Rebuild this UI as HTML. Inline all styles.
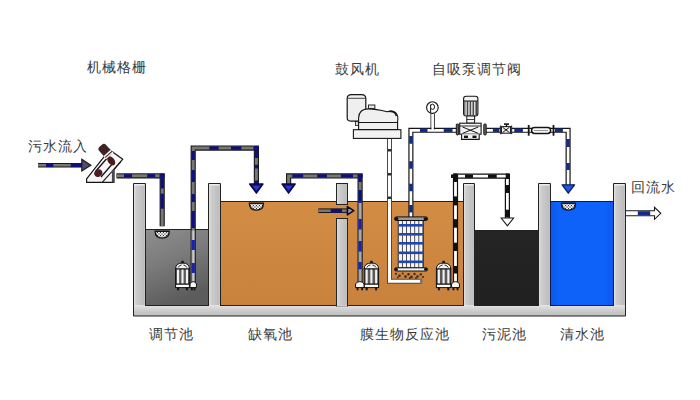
<!DOCTYPE html>
<html><head><meta charset="utf-8">
<style>
html,body{margin:0;padding:0;background:#fff;width:700px;height:400px;overflow:hidden}
.t{position:absolute;font-family:"Liberation Sans",sans-serif;font-size:14px;line-height:15px;letter-spacing:1px;color:#3a3a3a;white-space:nowrap}
svg{position:absolute;left:0;top:0}
</style></head><body>
<svg width="700" height="400" viewBox="0 0 700 400">
<defs>
<linearGradient id="gGray" x1="0" y1="0" x2="0.35" y2="1">
<stop offset="0" stop-color="#8e8e8e"/><stop offset="0.45" stop-color="#7c7c7c"/><stop offset="1" stop-color="#5c5c5c"/></linearGradient>
<linearGradient id="gOr" x1="0" y1="0" x2="0" y2="1">
<stop offset="0" stop-color="#d28c44"/><stop offset="1" stop-color="#c9823c"/></linearGradient>
<linearGradient id="gBlk" x1="0" y1="0" x2="0" y2="1">
<stop offset="0" stop-color="#252525"/><stop offset="1" stop-color="#202020"/></linearGradient>
<linearGradient id="gBlue" x1="0" y1="0" x2="1" y2="0">
<stop offset="0" stop-color="#0c58ee"/><stop offset="0.15" stop-color="#0e62fa"/><stop offset="0.85" stop-color="#0e62fa"/><stop offset="1" stop-color="#0c58ee"/></linearGradient>
<linearGradient id="gWall" x1="0" y1="0" x2="1" y2="0">
<stop offset="0" stop-color="#e4e4e4"/><stop offset="0.25" stop-color="#cdcdcd"/><stop offset="0.6" stop-color="#c4c4c4"/><stop offset="0.88" stop-color="#bdbdbd"/><stop offset="1" stop-color="#cfcfcf"/></linearGradient>
<linearGradient id="gFloor" x1="0" y1="0" x2="0" y2="1">
<stop offset="0" stop-color="#e2e2e2"/><stop offset="0.45" stop-color="#cecece"/><stop offset="1" stop-color="#bcbcbc"/></linearGradient>
<pattern id="mesh" width="3" height="3" patternUnits="userSpaceOnUse">
<rect width="3" height="3" fill="#fafafa"/><circle cx="0" cy="0" r="0.65" fill="#333"/><circle cx="3" cy="0" r="0.65" fill="#333"/><circle cx="0" cy="3" r="0.65" fill="#333"/><circle cx="3" cy="3" r="0.65" fill="#333"/><circle cx="1.5" cy="1.5" r="0.65" fill="#333"/></pattern>
</defs>

<rect x="133.5" y="183.5" width="12.00" height="122.00" fill="url(#gWall)"/>
<rect x="208.5" y="183.5" width="12.00" height="122.00" fill="url(#gWall)"/>
<rect x="336.5" y="183.5" width="11.00" height="20.50" fill="url(#gWall)"/>
<rect x="336.5" y="218" width="11.00" height="87.50" fill="url(#gWall)"/>
<rect x="463.5" y="183.5" width="11.00" height="122.00" fill="url(#gWall)"/>
<rect x="538.5" y="183.5" width="12.00" height="122.00" fill="url(#gWall)"/>
<rect x="613.5" y="183.5" width="12.00" height="122.00" fill="url(#gWall)"/>
<rect x="133.5" y="305.5" width="492" height="10.5" fill="url(#gFloor)"/>
<path d="M133.5 316 V183.5 H145.5 V305.5 H208.5 V183.5 H220.5 V305.5 H336.5 V218 H347.5 V305.5 H463.5 V183.5 H474.5 V305.5 H538.5 V183.5 H550.5 V305.5 H613.5 V183.5 H625.5 V316 Z" fill="none" stroke="#222" stroke-width="1"/>
<rect x="336.5" y="183.5" width="11" height="20.5" fill="none" stroke="#222" stroke-width="1"/>
<line x1="134.5" y1="184.8" x2="144.5" y2="184.8" stroke="#f4f4f4" stroke-width="1.3"/>
<line x1="209.5" y1="184.8" x2="219.5" y2="184.8" stroke="#f4f4f4" stroke-width="1.3"/>
<line x1="337.5" y1="184.8" x2="346.5" y2="184.8" stroke="#f4f4f4" stroke-width="1.3"/>
<line x1="464.5" y1="184.8" x2="473.5" y2="184.8" stroke="#f4f4f4" stroke-width="1.3"/>
<line x1="539.5" y1="184.8" x2="549.5" y2="184.8" stroke="#f4f4f4" stroke-width="1.3"/>
<line x1="614.5" y1="184.8" x2="624.5" y2="184.8" stroke="#f4f4f4" stroke-width="1.3"/>
<rect x="145.5" y="229.5" width="63" height="76" fill="url(#gGray)" stroke="#222" stroke-width="1"/>
<rect x="220.5" y="201.5" width="243" height="104" fill="url(#gOr)" stroke="#222" stroke-width="1"/>
<rect x="474.5" y="230.5" width="64" height="75" fill="url(#gBlk)" stroke="#222" stroke-width="1"/>
<rect x="550.5" y="201.5" width="63" height="104" fill="url(#gBlue)" stroke="#0a1a50" stroke-width="1"/>
<rect x="336.5" y="183.5" width="11.00" height="21.00" fill="url(#gWall)" stroke="#222" stroke-width="1"/>
<rect x="336.5" y="218.5" width="11.00" height="87.50" fill="url(#gWall)" stroke="#222" stroke-width="1"/>
<rect x="337" y="305" width="10" height="1.5" fill="#d0d0d0"/>
<path d="M116.5 175.8 L162.2 175.8 L162.2 226.3" fill="none" stroke="#181818" stroke-width="5.2" stroke-linejoin="miter"/>
<path d="M116.5 175.8 L162.2 175.8 L162.2 226.3" fill="none" stroke="#767874" stroke-width="3.0" stroke-linejoin="miter"/>
<rect x="124" y="174.10" width="8.00" height="3.4" fill="#10107a"/>
<rect x="147.2" y="174.10" width="8.00" height="3.4" fill="#10107a"/>
<rect x="159.5" y="174.10" width="5.10" height="3.4" fill="#10107a"/>
<rect x="160.50" y="173.5" width="3.4" height="15.00" fill="#10107a"/>
<rect x="160.50" y="193.7" width="3.4" height="15.00" fill="#10107a"/>
<path d="M193.2 282.5 L193.2 148.1 L256.4 148.1 L256.4 185" fill="none" stroke="#181818" stroke-width="5.2" stroke-linejoin="miter"/>
<path d="M193.2 282.5 L193.2 148.1 L256.4 148.1 L256.4 185" fill="none" stroke="#767874" stroke-width="3.0" stroke-linejoin="miter"/>
<rect x="191.6" y="230.5" width="3.2" height="52" fill="#9c9c9c"/>
<rect x="192.6" y="230.5" width="1.2" height="52" fill="#d8d8d8"/>
<rect x="191.50" y="151" width="3.4" height="9.00" fill="#10107a"/>
<rect x="191.50" y="170" width="3.4" height="12.00" fill="#10107a"/>
<rect x="191.50" y="194" width="3.4" height="8.00" fill="#10107a"/>
<rect x="191.50" y="211" width="3.4" height="17.00" fill="#10107a"/>
<rect x="191.50" y="240" width="3.4" height="10.00" fill="#1a22a8"/>
<rect x="191.50" y="263" width="3.4" height="10.00" fill="#1a22a8"/>
<rect x="209.4" y="146.40" width="9.20" height="3.4" fill="#10107a"/>
<rect x="231" y="146.40" width="10.40" height="3.4" fill="#10107a"/>
<rect x="253.4" y="146.40" width="5.40" height="3.4" fill="#10107a"/>
<rect x="254.70" y="146" width="3.4" height="12.00" fill="#10107a"/>
<rect x="254.70" y="164.7" width="3.4" height="3.80" fill="#10107a"/>
<rect x="254.70" y="180.5" width="3.4" height="4.50" fill="#10107a"/>
<path d="M360.1 283.5 L360.1 175.9 L288.6 175.9 L288.6 185" fill="none" stroke="#181818" stroke-width="5.2" stroke-linejoin="miter"/>
<path d="M360.1 283.5 L360.1 175.9 L288.6 175.9 L288.6 185" fill="none" stroke="#767874" stroke-width="3.0" stroke-linejoin="miter"/>
<rect x="292.3" y="174.20" width="10.90" height="3.4" fill="#10107a"/>
<rect x="317.2" y="174.20" width="9.70" height="3.4" fill="#10107a"/>
<rect x="340.9" y="174.20" width="12.10" height="3.4" fill="#10107a"/>
<rect x="357.5" y="174.20" width="5.20" height="3.4" fill="#10107a"/>
<rect x="358.6" y="202.5" width="3" height="81" fill="#8e8e8e"/>
<rect x="359.5" y="202.5" width="1.2" height="81" fill="#b8b8b8"/>
<rect x="358.40" y="176" width="3.4" height="6.00" fill="#10107a"/>
<rect x="358.40" y="190" width="3.4" height="11.50" fill="#10107a"/>
<rect x="358.40" y="201.5" width="3.4" height="1.50" fill="#1a22a8"/>
<rect x="358.40" y="219" width="3.4" height="10.50" fill="#1a22a8"/>
<rect x="358.40" y="241" width="3.4" height="10.60" fill="#1a22a8"/>
<rect x="358.40" y="262" width="3.4" height="7.30" fill="#1a22a8"/>
<path d="M318.3 210.7 L348 210.7" fill="none" stroke="#181818" stroke-width="4.6" stroke-linejoin="miter"/>
<path d="M318.3 210.7 L348 210.7" fill="none" stroke="#767874" stroke-width="2.6" stroke-linejoin="miter"/>
<rect x="330.7" y="208.80" width="11.30" height="3.8" fill="#10107a"/>
<path d="M38 165.2 L83 165.2" fill="none" stroke="#181818" stroke-width="4.6" stroke-linejoin="miter"/>
<path d="M38 165.2 L83 165.2" fill="none" stroke="#767874" stroke-width="2.6" stroke-linejoin="miter"/>
<rect x="46" y="163.30" width="7.30" height="3.8" fill="#10107a"/>
<rect x="70.8" y="163.30" width="11.70" height="3.8" fill="#10107a"/>
<polygon points="249.6,184 263,184 256.4,193.2" fill="#16168c" stroke="#0a0a44" stroke-width="1.3" stroke-linejoin="round"/>
<polygon points="282,184 295.2,184 288.6,193.2" fill="#16168c" stroke="#0a0a44" stroke-width="1.3" stroke-linejoin="round"/>
<polygon points="252.8,186 260,186 256.4,190.2" fill="#2a3ad0"/><polygon points="285.2,186 292.2,186 288.6,190.2" fill="#2a3ad0"/>
<polygon points="347.4,206.6 353.8,210.7 347.4,214.9" fill="#9494a0" stroke="#0c0c30" stroke-width="1.6" stroke-linejoin="round"/>
<polygon points="81.8,159.2 90.8,165.2 81.8,171" fill="#4e4e66" stroke="#1a1a2a" stroke-width="1.2"/>
<path d="M389.5 138.5 L389.5 281.3 L422 281.3" fill="none" stroke="#4a4a4a" stroke-width="5.0" stroke-linejoin="miter"/>
<path d="M389.5 138.5 L389.5 281.3 L422 281.3" fill="none" stroke="#fff" stroke-width="3.0" stroke-linejoin="miter"/>
<rect x="387.50" y="149" width="4" height="2.50" fill="#333"/>
<rect x="387.50" y="173" width="4" height="2.50" fill="#333"/>
<rect x="387.50" y="196.5" width="4" height="2.50" fill="#333"/>
<rect x="420" y="279" width="2.5" height="4.6" fill="#777"/>
<path d="M410.9 217 L410.9 130.3 L457 130.3" fill="none" stroke="#151515" stroke-width="5.1" stroke-linejoin="miter"/>
<path d="M410.9 217 L410.9 130.3 L457 130.3" fill="none" stroke="#fff" stroke-width="2.7" stroke-linejoin="miter"/>
<rect x="409.20" y="136" width="3.4" height="7.75" fill="#0e2c88"/>
<rect x="409.20" y="161.25" width="3.4" height="7.50" fill="#0e2c88"/>
<rect x="409.20" y="183.75" width="3.4" height="7.50" fill="#0e2c88"/>
<rect x="409.20" y="205" width="3.4" height="7.50" fill="#0e2c88"/>
<rect x="420" y="128.60" width="7.50" height="3.4" fill="#0e2c88"/>
<rect x="443.75" y="128.60" width="8.75" height="3.4" fill="#0e2c88"/>
<path d="M485 130.3 L568.1 130.3 L568.1 185" fill="none" stroke="#151515" stroke-width="5.1" stroke-linejoin="miter"/>
<path d="M485 130.3 L568.1 130.3 L568.1 185" fill="none" stroke="#fff" stroke-width="2.7" stroke-linejoin="miter"/>
<rect x="492.9" y="128.60" width="6.40" height="3.4" fill="#0e2c88"/>
<rect x="514.3" y="128.60" width="8.60" height="3.4" fill="#0e2c88"/>
<rect x="555" y="128.60" width="7.90" height="3.4" fill="#0e2c88"/>
<rect x="566.40" y="139" width="3.4" height="8.00" fill="#0e2c88"/>
<rect x="566.40" y="163" width="3.4" height="7.00" fill="#0e2c88"/>
<path d="M626 210.8 H654.5 V207.3 L660.8 213.3 L654.5 219.3 V215.8 H626" fill="#fff" stroke="#1a1a1a" stroke-width="1.1"/>
<rect x="637.8" y="211.2" width="12.4" height="4.1" fill="#0e2c88"/>
<polygon points="562.2,184.8 574.6,184.8 568.3,193.2" fill="#2058d8" stroke="#0c1c60" stroke-width="1.3" stroke-linejoin="round"/>
<path d="M455.5 283.5 L455.5 176.2 L507.4 176.2 L507.4 218.5" fill="none" stroke="#111" stroke-width="5.2" stroke-linejoin="miter"/>
<path d="M455.5 283.5 L455.5 176.2 L507.4 176.2 L507.4 218.5" fill="none" stroke="#fff" stroke-width="2.8" stroke-linejoin="miter"/>
<rect x="453.80" y="173.5" width="3.4" height="8.50" fill="#111"/>
<rect x="453.80" y="196.4" width="3.4" height="9.00" fill="#111"/>
<rect x="453.80" y="219.2" width="3.4" height="8.50" fill="#111"/>
<rect x="453.80" y="242.7" width="3.4" height="8.30" fill="#111"/>
<rect x="453.80" y="266" width="3.4" height="7.50" fill="#111"/>
<rect x="451" y="174.50" width="7.10" height="3.4" fill="#111"/>
<rect x="465" y="174.50" width="8.00" height="3.4" fill="#111"/>
<rect x="488" y="174.50" width="8.70" height="3.4" fill="#111"/>
<rect x="505.70" y="173.5" width="3.4" height="5.50" fill="#111"/>
<rect x="505.70" y="185" width="3.4" height="8.00" fill="#111"/>
<rect x="505.70" y="209.7" width="3.4" height="7.80" fill="#111"/>
<polygon points="501.2,218 513.6,218 507.4,225.8" fill="#fff" stroke="#1a1a1a" stroke-width="1.1"/>
<path d="M431 113.5 V129.5 M434.3 113.5 V129.5" stroke="#151515" stroke-width="1"/>
<rect x="431.5" y="113" width="2.3" height="18" fill="#fff"/>
<circle cx="432.4" cy="107.6" r="5.8" fill="#fff" stroke="#151515" stroke-width="1.1"/>
<path d="M430.6 104.5 V112.8 M430.6 105.8 Q431 104.2 432.6 104.2 Q434.6 104.4 434.6 106.8 Q434.6 109.4 432.6 109.4 Q431 109.4 430.6 108" fill="none" stroke="#151515" stroke-width="1"/>
<rect x="463.6" y="96.2" width="14.3" height="19.8" rx="2.5" fill="#f4f4f4" stroke="#151515" stroke-width="1.1"/>
<rect x="464.3" y="101.3" width="12.9" height="14.2" fill="#4a4a4a"/>
<g fill="#f0f0f0"><rect x="465.4" y="101.5" width="1.3" height="13.8"/><rect x="468.3" y="101.5" width="1.3" height="13.8"/><rect x="471.2" y="101.5" width="1.3" height="13.8"/><rect x="474.1" y="101.5" width="1.3" height="13.8"/></g>
<line x1="463.6" y1="101" x2="477.9" y2="101" stroke="#151515" stroke-width="1"/>
<rect x="466.8" y="116" width="7.8" height="7.2" fill="#f4f4f4" stroke="#151515" stroke-width="1"/>
<line x1="466.8" y1="119.5" x2="474.6" y2="119.5" stroke="#151515" stroke-width="0.8"/>
<rect x="459.7" y="123.2" width="21.4" height="11" fill="#f4f4f4" stroke="#151515" stroke-width="1.1"/>
<line x1="459.7" y1="126" x2="481.1" y2="126" stroke="#151515" stroke-width="0.9"/>
<path d="M462.5 127 L478.3 133.4 M462.5 133.4 L478.3 127" stroke="#151515" stroke-width="1"/>
<path d="M461.6 134.2 V139.4 H479.2 V134.2" fill="#f4f4f4" stroke="#151515" stroke-width="1.1"/>
<rect x="464" y="135.6" width="4" height="2.4" fill="#151515"/><rect x="472.5" y="135.6" width="4" height="2.4" fill="#151515"/>
<rect x="456.3" y="124" width="2.4" height="10.9" rx="0.8" fill="#666" stroke="#151515" stroke-width="1"/>
<rect x="483.8" y="124" width="2.4" height="10.9" rx="0.8" fill="#666" stroke="#151515" stroke-width="1"/>
<rect x="501.5" y="126.6" width="9" height="6.6" fill="#f0f0f0" stroke="#151515" stroke-width="1"/>
<path d="M502.5 127.2 L509.5 132.6 M502.5 132.6 L509.5 127.2" stroke="#151515" stroke-width="1"/>
<rect x="499.8" y="125.6" width="1.6" height="8.6" fill="#333"/><rect x="510.6" y="125.6" width="1.6" height="8.6" fill="#333"/>
<rect x="504" y="123.3" width="5" height="1.6" fill="#151515"/><rect x="505.8" y="124.5" width="1.4" height="2.4" fill="#151515"/>
<rect x="527.8" y="125" width="1.8" height="10.7" fill="#151515"/>
<rect x="552.6" y="125" width="1.8" height="10.7" fill="#151515"/>
<rect x="531.6" y="127.6" width="19" height="5.8" rx="2.9" fill="#fff" stroke="#151515" stroke-width="1.5"/>
<line x1="534" y1="130.5" x2="548" y2="130.5" stroke="#999" stroke-width="1.2"/>
<path d="M347.2 98.5 Q347.2 94.6 351.5 94.6 H361.5 Q365.8 94.6 365.8 98.5 V118 Q365.8 121.2 361.5 121.2 H351.5 Q347.2 121.2 347.2 118 Z" fill="#efefef" stroke="#151515" stroke-width="1.2"/>
<line x1="348" y1="98.3" x2="365" y2="98.3" stroke="#333" stroke-width="0.9"/>
<rect x="355.4" y="121.5" width="3.9" height="4" fill="#ddd" stroke="#151515" stroke-width="0.8"/>
<rect x="353.4" y="129.7" width="47.5" height="8.7" fill="#f2f2f2" stroke="#151515" stroke-width="1.1"/>
<path d="M358.6 129.5 V118 Q359 109 368 108.9 Q376 108.9 387.2 111.8 Q392 110 396 113 Q398.6 116 397.6 121 V129.5 Z" fill="#f0f0f0" stroke="#151515" stroke-width="1.1"/>
<path d="M389.5 111.5 Q395 110.5 396.5 116" fill="none" stroke="#151515" stroke-width="1.6"/>
<line x1="358.6" y1="122.5" x2="397.6" y2="122.5" stroke="#151515" stroke-width="1"/>
<rect x="368.4" y="105" width="6.5" height="3.4" fill="#e8e8e8" stroke="#151515" stroke-width="0.9"/>
<rect x="398.2" y="220.4" width="25" height="47.3" fill="#404048" stroke="#151515" stroke-width="0.9"/>
<rect x="398.75" y="220.8" width="3.2" height="46.6" fill="#f6f6f6"/>
<rect x="402.85" y="220.8" width="3.2" height="46.6" fill="#f6f6f6"/>
<rect x="406.95" y="220.8" width="3.2" height="46.6" fill="#f6f6f6"/>
<rect x="411.05" y="220.8" width="3.2" height="46.6" fill="#f6f6f6"/>
<rect x="415.15" y="220.8" width="3.2" height="46.6" fill="#f6f6f6"/>
<rect x="419.25" y="220.8" width="3.2" height="46.6" fill="#f6f6f6"/>
<rect x="398.6" y="224.0" width="24.2" height="2.6" fill="#1d48b4"/>
<rect x="398.6" y="233.0" width="24.2" height="2.6" fill="#1d48b4"/>
<rect x="398.6" y="242.0" width="24.2" height="2.6" fill="#1d48b4"/>
<rect x="398.6" y="251.5" width="24.2" height="2.6" fill="#1d48b4"/>
<rect x="398.6" y="260.5" width="24.2" height="2.6" fill="#1d48b4"/>
<rect x="394.6" y="216.9" width="33" height="3.6" rx="1.8" fill="#9a9a9a" stroke="#111" stroke-width="1"/>
<rect x="394.4" y="217.2" width="4" height="3" rx="1.5" fill="#111"/><rect x="423.6" y="217.2" width="4" height="3" rx="1.5" fill="#111"/>
<rect x="394.6" y="267.8" width="33" height="3.2" rx="1.6" fill="#f0f0f0" stroke="#111" stroke-width="1"/>
<rect x="394.4" y="268" width="3.5" height="2.8" rx="1.4" fill="#111"/><rect x="424" y="268" width="3.5" height="2.8" rx="1.4" fill="#111"/>
<g fill="#3a2620"><circle cx="396" cy="273.8" r="1.1"/><circle cx="399.5" cy="275.8" r="1.3"/><circle cx="402.8" cy="273.6" r="1.0"/><circle cx="405.5" cy="276.6" r="1.3"/><circle cx="408.5" cy="274.2" r="1.2"/><circle cx="411.5" cy="276.9" r="1.3"/><circle cx="414.5" cy="274" r="1.2"/><circle cx="417.5" cy="276.5" r="1.2"/><circle cx="420.8" cy="274.4" r="1.2"/><circle cx="423" cy="277" r="1.0"/><circle cx="397.8" cy="277.4" r="0.9"/><circle cx="409.8" cy="278" r="1.0"/><circle cx="416" cy="278" r="0.9"/></g>
<path d="M155.2 231.2 H169.2 C169.2 235.7 166.7 238.1 162.2 238.1 C157.7 238.1 155.2 235.7 155.2 231.2 Z" fill="url(#mesh)" stroke="#151515" stroke-width="1.4"/>
<path d="M249.4 203.2 H263.4 C263.4 207.7 260.9 210.1 256.4 210.1 C251.9 210.1 249.4 207.7 249.4 203.2 Z" fill="url(#mesh)" stroke="#151515" stroke-width="1.4"/>
<path d="M561.5 203.2 H575.5 C575.5 207.7 573.0 210.1 568.5 210.1 C564.0 210.1 561.5 207.7 561.5 203.2 Z" fill="url(#mesh)" stroke="#151515" stroke-width="1.4"/>
<path d="M175.6 269 Q175.6 263 182.5 263 Q189.4 263 189.4 269 Z" fill="#f2f2f2" stroke="#111" stroke-width="1"/>
<path d="M178.1 267.5 Q179.6 265 181.5 265" fill="none" stroke="#111" stroke-width="0.9"/>
<path d="M186.9 267.5 Q185.4 265 183.5 265" fill="none" stroke="#111" stroke-width="0.9"/>
<rect x="181.3" y="260.8" width="2.4" height="2.6" fill="#111"/>
<rect x="175.6" y="269" width="13.8" height="15.2" fill="#5a5a5a" stroke="#111" stroke-width="1"/>
<rect x="177.00" y="269.6" width="2.1" height="14" fill="#f2f2f2"/>
<rect x="181.45" y="269.6" width="2.1" height="14" fill="#f2f2f2"/>
<rect x="185.90" y="269.6" width="2.1" height="14" fill="#f2f2f2"/>
<rect x="175.6" y="284.2" width="13.8" height="3.4" fill="#fafafa" stroke="#111" stroke-width="1"/>
<rect x="177.1" y="287.5" width="2" height="2.8" fill="#111"/><rect x="185.9" y="287.5" width="2" height="2.8" fill="#111"/>
<path d="M190 287.6 V284 Q191 281.6 193.2 281.6 Q195.4 281.6 196.4 284 V287.6 Z" fill="#fafafa" stroke="#111" stroke-width="1"/>
<rect x="191" y="287.5" width="1.8" height="2.8" fill="#111"/><rect x="193.6" y="287.5" width="1.8" height="2.8" fill="#111"/>
<path d="M364.2 269 Q364.2 263 371.4 263 Q378.59999999999997 263 378.59999999999997 269 Z" fill="#f2f2f2" stroke="#111" stroke-width="1"/>
<path d="M366.7 267.5 Q368.2 265 370.4 265" fill="none" stroke="#111" stroke-width="0.9"/>
<path d="M376.09999999999997 267.5 Q374.59999999999997 265 372.4 265" fill="none" stroke="#111" stroke-width="0.9"/>
<rect x="370.2" y="260.8" width="2.4" height="2.6" fill="#111"/>
<rect x="364.2" y="269" width="14.4" height="15.2" fill="#5a5a5a" stroke="#111" stroke-width="1"/>
<rect x="365.60" y="269.6" width="2.1" height="14" fill="#f2f2f2"/>
<rect x="370.35" y="269.6" width="2.1" height="14" fill="#f2f2f2"/>
<rect x="375.10" y="269.6" width="2.1" height="14" fill="#f2f2f2"/>
<rect x="364.2" y="284.2" width="14.4" height="3.4" fill="#fafafa" stroke="#111" stroke-width="1"/>
<rect x="365.7" y="287.5" width="2" height="2.8" fill="#111"/><rect x="375.09999999999997" y="287.5" width="2" height="2.8" fill="#111"/>
<path d="M355.6 287.6 V284 Q356.6 281.6 359.8 281.6 Q363.0 281.6 364.0 284 V287.6 Z" fill="#fafafa" stroke="#111" stroke-width="1"/>
<rect x="356.6" y="287.5" width="1.8" height="2.8" fill="#111"/><rect x="361.2" y="287.5" width="1.8" height="2.8" fill="#111"/>
<path d="M436.4 269 Q436.4 263 443.59999999999997 263 Q450.79999999999995 263 450.79999999999995 269 Z" fill="#f2f2f2" stroke="#111" stroke-width="1"/>
<path d="M438.9 267.5 Q440.4 265 442.59999999999997 265" fill="none" stroke="#111" stroke-width="0.9"/>
<path d="M448.29999999999995 267.5 Q446.79999999999995 265 444.59999999999997 265" fill="none" stroke="#111" stroke-width="0.9"/>
<rect x="442.4" y="260.8" width="2.4" height="2.6" fill="#111"/>
<rect x="436.4" y="269" width="14.4" height="15.2" fill="#5a5a5a" stroke="#111" stroke-width="1"/>
<rect x="437.80" y="269.6" width="2.1" height="14" fill="#f2f2f2"/>
<rect x="442.55" y="269.6" width="2.1" height="14" fill="#f2f2f2"/>
<rect x="447.30" y="269.6" width="2.1" height="14" fill="#f2f2f2"/>
<rect x="436.4" y="284.2" width="14.4" height="3.4" fill="#fafafa" stroke="#111" stroke-width="1"/>
<rect x="437.9" y="287.5" width="2" height="2.8" fill="#111"/><rect x="447.29999999999995" y="287.5" width="2" height="2.8" fill="#111"/>
<path d="M451.6 287.6 V284 Q452.6 281.6 455.5 281.6 Q458.40000000000003 281.6 459.40000000000003 284 V287.6 Z" fill="#fafafa" stroke="#111" stroke-width="1"/>
<rect x="452.6" y="287.5" width="1.8" height="2.8" fill="#111"/><rect x="456.6" y="287.5" width="1.8" height="2.8" fill="#111"/>
<polygon points="86.6,182.4 113.9,182.4 113.9,169.5 122.8,159.2 109.5,149.8 86.6,178.8" fill="#f6f6f6" stroke="#151515" stroke-width="1.2" stroke-linejoin="round"/>
<line x1="102.2" y1="182.4" x2="120.6" y2="162" stroke="#151515" stroke-width="1.1"/>
<rect x="111.9" y="169.8" width="2.4" height="12.4" fill="#4a4a4a"/>
<path d="M95.5 171.5 L108.5 156.5 M101 177 L114 162" stroke="#151515" stroke-width="1.3"/>
<ellipse cx="98.3" cy="173.2" rx="4.2" ry="3.5" transform="rotate(-30 98.3 173.2)" fill="#4e1c20"/>
<ellipse cx="111.2" cy="160.8" rx="3.2" ry="5.2" transform="rotate(-37 111.2 160.8)" fill="#4a1c1e"/>
<g transform="translate(105.4 151) rotate(-42)"><rect x="-4.6" y="-7" width="9.2" height="13.5" rx="3" fill="#3e2424"/><rect x="-5" y="2.6" width="10" height="1.5" fill="#f4f4f4"/><rect x="-5" y="5.2" width="10" height="1.3" fill="#f4f4f4"/></g>
</svg>
<div class="t" style="left:87px;top:60px">机械格栅</div>
<div class="t" style="left:28px;top:139px">污水流入</div>
<div class="t" style="left:335px;top:62px">鼓风机</div>
<div class="t" style="left:432px;top:62px">自吸泵调节阀</div>
<div class="t" style="left:631px;top:180px">回流水</div>
<div class="t" style="left:149px;top:327px">调节池</div>
<div class="t" style="left:248px;top:327px">缺氧池</div>
<div class="t" style="left:360px;top:327px">膜生物反应池</div>
<div class="t" style="left:482px;top:327px">污泥池</div>
<div class="t" style="left:560px;top:327px">清水池</div>
</body></html>
